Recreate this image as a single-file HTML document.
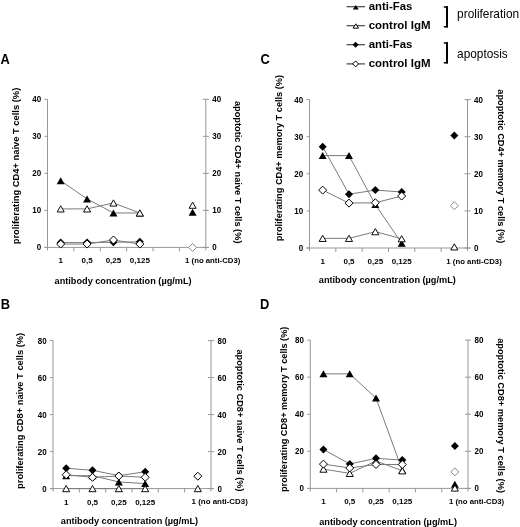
<!DOCTYPE html>
<html><head><meta charset="utf-8"><style>
html,body{margin:0;padding:0;background:#fff;}
svg{display:block;font-family:"Liberation Sans", sans-serif;will-change:transform;}
</style></head><body>
<svg width="520" height="527" viewBox="0 0 520 527">
<text x="0.5" y="63.5" font-size="14.6" font-weight="bold" text-anchor="start" fill="#000" textLength="9.3" lengthAdjust="spacingAndGlyphs" >A</text>
<g stroke="#979797" stroke-width="1" fill="none">
<path d="M47.5,99.3 V250.4 M205.8,99.3 V250.4 M44.5,247.4 H208.8"/>
<path d="M44.5,247.4 H47.5 M202.8,247.4 H208.8 M44.5,210.375 H47.5 M202.8,210.375 H208.8 M44.5,173.35 H47.5 M202.8,173.35 H208.8 M44.5,136.325 H47.5 M202.8,136.325 H208.8 M44.5,99.29999999999998 H47.5 M202.8,99.29999999999998 H208.8 M73.88333333333334,247.4 V251.4 M100.26666666666668,247.4 V251.4 M126.65,247.4 V251.4 M153.03333333333336,247.4 V251.4 M179.41666666666669,247.4 V251.4 "/>
</g>
<text x="41.2" y="250.4" font-size="8.4" font-weight="bold" text-anchor="end" fill="#000" textLength="4.45" lengthAdjust="spacingAndGlyphs" >0</text>
<text x="212.3" y="250.4" font-size="8.4" font-weight="bold" text-anchor="start" fill="#000" textLength="4.45" lengthAdjust="spacingAndGlyphs" >0</text>
<text x="41.2" y="213.375" font-size="8.4" font-weight="bold" text-anchor="end" fill="#000" textLength="8.9" lengthAdjust="spacingAndGlyphs" >10</text>
<text x="212.3" y="213.375" font-size="8.4" font-weight="bold" text-anchor="start" fill="#000" textLength="8.9" lengthAdjust="spacingAndGlyphs" >10</text>
<text x="41.2" y="176.35" font-size="8.4" font-weight="bold" text-anchor="end" fill="#000" textLength="8.9" lengthAdjust="spacingAndGlyphs" >20</text>
<text x="212.3" y="176.35" font-size="8.4" font-weight="bold" text-anchor="start" fill="#000" textLength="8.9" lengthAdjust="spacingAndGlyphs" >20</text>
<text x="41.2" y="139.325" font-size="8.4" font-weight="bold" text-anchor="end" fill="#000" textLength="8.9" lengthAdjust="spacingAndGlyphs" >30</text>
<text x="212.3" y="139.325" font-size="8.4" font-weight="bold" text-anchor="start" fill="#000" textLength="8.9" lengthAdjust="spacingAndGlyphs" >30</text>
<text x="41.2" y="102.29999999999998" font-size="8.4" font-weight="bold" text-anchor="end" fill="#000" textLength="8.9" lengthAdjust="spacingAndGlyphs" >40</text>
<text x="212.3" y="102.29999999999998" font-size="8.4" font-weight="bold" text-anchor="start" fill="#000" textLength="8.9" lengthAdjust="spacingAndGlyphs" >40</text>
<text x="60.69166666666667" y="263.4" font-size="8" font-weight="bold" text-anchor="middle" fill="#000" >1</text>
<text x="87.075" y="263.4" font-size="8" font-weight="bold" text-anchor="middle" fill="#000" >0,5</text>
<text x="113.45833333333334" y="263.4" font-size="8" font-weight="bold" text-anchor="middle" fill="#000" >0,25</text>
<text x="139.8416666666667" y="263.4" font-size="8" font-weight="bold" text-anchor="middle" fill="#000" >0,125</text>
<text x="185.1" y="263.0" font-size="8" font-weight="bold" text-anchor="start" fill="#000" textLength="55.199999999999996" lengthAdjust="spacingAndGlyphs" >1 (no anti-CD3)</text>
<text x="54.6" y="283.9" font-size="9.1" font-weight="bold" text-anchor="start" fill="#000" textLength="137.0" lengthAdjust="spacingAndGlyphs" >antibody concentration (&#181;g/mL)</text>
<text x="18.9" y="244.3" font-size="9.2" font-weight="bold" text-anchor="start" fill="#000" textLength="156.60000000000002" lengthAdjust="spacingAndGlyphs" transform="rotate(-90 18.9 244.3)" >proliferating CD4+ naive T cells (%)</text>
<text x="234.8" y="100.89999999999999" font-size="9.2" font-weight="bold" text-anchor="start" fill="#000" textLength="142.60000000000002" lengthAdjust="spacingAndGlyphs" transform="rotate(90 234.8 100.89999999999999)" >apoptotic CD4+ naive T cells (%)</text>
<g stroke="#7a7a7a" stroke-width="1" fill="none">
<path d="M60.69,180.75 L87.08,198.90 L113.46,212.97 L139.84,212.97"/>
<path d="M60.69,208.89 L87.08,208.89 L113.46,202.97 L139.84,212.97"/>
<path d="M60.69,242.59 L87.08,242.59 L113.46,242.22 L139.84,241.85"/>
<path d="M60.69,244.07 L87.08,244.07 L113.46,240.00 L139.84,244.07"/>
</g>
<polygon points="60.69166666666667,177.255 64.69166666666666,184.255 56.69166666666667,184.255" fill="#000"/>
<polygon points="87.075,195.39724999999999 91.075,202.39724999999999 83.075,202.39724999999999" fill="#000"/>
<polygon points="113.45833333333334,209.46675 117.45833333333334,216.46675 109.45833333333334,216.46675" fill="#000"/>
<polygon points="139.8416666666667,209.46675 143.8416666666667,216.46675 135.8416666666667,216.46675" fill="#000"/>
<polygon points="192.60833333333335,208.72625 196.60833333333335,215.72625 188.60833333333335,215.72625" fill="#000"/>
<polygon points="60.69166666666667,205.794 64.24166666666667,211.994 57.14166666666667,211.994" fill="#fff" stroke="#000" stroke-width="0.95"/>
<polygon points="87.075,205.794 90.625,211.994 83.525,211.994" fill="#fff" stroke="#000" stroke-width="0.95"/>
<polygon points="113.45833333333334,199.87 117.00833333333334,206.07 109.90833333333335,206.07" fill="#fff" stroke="#000" stroke-width="0.95"/>
<polygon points="139.8416666666667,209.86675 143.3916666666667,216.06674999999998 136.29166666666669,216.06674999999998" fill="#fff" stroke="#000" stroke-width="0.95"/>
<polygon points="192.60833333333335,202.0915 196.15833333333336,208.29149999999998 189.05833333333334,208.29149999999998" fill="#fff" stroke="#000" stroke-width="0.95"/>
<polygon points="60.69166666666667,238.58675 64.69166666666666,242.58675 60.69166666666667,246.58675 56.69166666666667,242.58675" fill="#000"/>
<polygon points="87.075,238.58675 91.075,242.58675 87.075,246.58675 83.075,242.58675" fill="#000"/>
<polygon points="113.45833333333334,238.2165 117.45833333333334,242.2165 113.45833333333334,246.2165 109.45833333333334,242.2165" fill="#000"/>
<polygon points="139.8416666666667,237.84625 143.8416666666667,241.84625 139.8416666666667,245.84625 135.8416666666667,241.84625" fill="#000"/>
<polygon points="60.69166666666667,240.06775000000002 64.69166666666666,244.06775000000002 60.69166666666667,248.06775000000002 56.69166666666667,244.06775000000002" fill="#fff" stroke="#000" stroke-width="1"/>
<polygon points="87.075,240.06775000000002 91.075,244.06775000000002 87.075,248.06775000000002 83.075,244.06775000000002" fill="#fff" stroke="#000" stroke-width="1"/>
<polygon points="113.45833333333334,235.995 117.45833333333334,239.995 113.45833333333334,243.995 109.45833333333334,239.995" fill="#fff" stroke="#000" stroke-width="1"/>
<polygon points="139.8416666666667,240.06775000000002 143.8416666666667,244.06775000000002 139.8416666666667,248.06775000000002 135.8416666666667,244.06775000000002" fill="#fff" stroke="#000" stroke-width="1"/>
<polygon points="192.60833333333335,243.4 196.60833333333335,247.4 192.60833333333335,251.4 188.60833333333335,247.4" fill="#fff" stroke="#888" stroke-width="1"/>
<text x="260.5" y="63.5" font-size="14.6" font-weight="bold" text-anchor="start" fill="#000" textLength="9.3" lengthAdjust="spacingAndGlyphs" >C</text>
<g stroke="#979797" stroke-width="1" fill="none">
<path d="M309.5,99.6 V251.0 M467.5,99.6 V251.0 M306.5,248.0 H470.5"/>
<path d="M306.5,248.0 H309.5 M464.5,248.0 H470.5 M306.5,210.9 H309.5 M464.5,210.9 H470.5 M306.5,173.8 H309.5 M464.5,173.8 H470.5 M306.5,136.7 H309.5 M464.5,136.7 H470.5 M306.5,99.6 H309.5 M464.5,99.6 H470.5 M335.8333333333333,248.0 V252.0 M362.1666666666667,248.0 V252.0 M388.5,248.0 V252.0 M414.8333333333333,248.0 V252.0 M441.16666666666663,248.0 V252.0 "/>
</g>
<text x="303.2" y="251.0" font-size="8.4" font-weight="bold" text-anchor="end" fill="#000" textLength="4.45" lengthAdjust="spacingAndGlyphs" >0</text>
<text x="474.0" y="251.0" font-size="8.4" font-weight="bold" text-anchor="start" fill="#000" textLength="4.45" lengthAdjust="spacingAndGlyphs" >0</text>
<text x="303.2" y="213.9" font-size="8.4" font-weight="bold" text-anchor="end" fill="#000" textLength="8.9" lengthAdjust="spacingAndGlyphs" >10</text>
<text x="474.0" y="213.9" font-size="8.4" font-weight="bold" text-anchor="start" fill="#000" textLength="8.9" lengthAdjust="spacingAndGlyphs" >10</text>
<text x="303.2" y="176.8" font-size="8.4" font-weight="bold" text-anchor="end" fill="#000" textLength="8.9" lengthAdjust="spacingAndGlyphs" >20</text>
<text x="474.0" y="176.8" font-size="8.4" font-weight="bold" text-anchor="start" fill="#000" textLength="8.9" lengthAdjust="spacingAndGlyphs" >20</text>
<text x="303.2" y="139.7" font-size="8.4" font-weight="bold" text-anchor="end" fill="#000" textLength="8.9" lengthAdjust="spacingAndGlyphs" >30</text>
<text x="474.0" y="139.7" font-size="8.4" font-weight="bold" text-anchor="start" fill="#000" textLength="8.9" lengthAdjust="spacingAndGlyphs" >30</text>
<text x="303.2" y="102.6" font-size="8.4" font-weight="bold" text-anchor="end" fill="#000" textLength="8.9" lengthAdjust="spacingAndGlyphs" >40</text>
<text x="474.0" y="102.6" font-size="8.4" font-weight="bold" text-anchor="start" fill="#000" textLength="8.9" lengthAdjust="spacingAndGlyphs" >40</text>
<text x="322.6666666666667" y="264.0" font-size="8" font-weight="bold" text-anchor="middle" fill="#000" >1</text>
<text x="349.0" y="264.0" font-size="8" font-weight="bold" text-anchor="middle" fill="#000" >0,5</text>
<text x="375.3333333333333" y="264.0" font-size="8" font-weight="bold" text-anchor="middle" fill="#000" >0,25</text>
<text x="401.66666666666663" y="264.0" font-size="8" font-weight="bold" text-anchor="middle" fill="#000" >0,125</text>
<text x="446.3" y="263.6" font-size="8" font-weight="bold" text-anchor="start" fill="#000" textLength="55.49999999999998" lengthAdjust="spacingAndGlyphs" >1 (no anti-CD3)</text>
<text x="318.8" y="282.8" font-size="9.1" font-weight="bold" text-anchor="start" fill="#000" textLength="137.0" lengthAdjust="spacingAndGlyphs" >antibody concentration (&#181;g/mL)</text>
<text x="282.2" y="241.3" font-size="9.2" font-weight="bold" text-anchor="start" fill="#000" textLength="166.4" lengthAdjust="spacingAndGlyphs" transform="rotate(-90 282.2 241.3)" >proliferating CD4+ memory T cells (%)</text>
<text x="498.3" y="89.3" font-size="9.2" font-weight="bold" text-anchor="start" fill="#000" textLength="154.0" lengthAdjust="spacingAndGlyphs" transform="rotate(90 498.3 89.3)" >apoptotic CD4+ memory T cells (%)</text>
<g stroke="#7a7a7a" stroke-width="1" fill="none">
<path d="M322.67,155.62 L349.00,155.62 L375.33,204.59 L401.67,243.18"/>
<path d="M322.67,238.35 L349.00,238.35 L375.33,231.68 L401.67,238.72"/>
<path d="M322.67,146.72 L349.00,194.20 L375.33,190.12 L401.67,191.98"/>
<path d="M322.67,190.12 L349.00,203.11 L375.33,202.74 L401.67,196.06"/>
</g>
<polygon points="322.6666666666667,152.121 326.6666666666667,159.121 318.6666666666667,159.121" fill="#000"/>
<polygon points="349.0,152.121 353.0,159.121 345.0,159.121" fill="#000"/>
<polygon points="375.3333333333333,201.09300000000002 379.3333333333333,208.09300000000002 371.3333333333333,208.09300000000002" fill="#000"/>
<polygon points="401.66666666666663,239.677 405.66666666666663,246.677 397.66666666666663,246.677" fill="#000"/>
<polygon points="322.6666666666667,235.254 326.2166666666667,241.45399999999998 319.1166666666667,241.45399999999998" fill="#fff" stroke="#000" stroke-width="0.95"/>
<polygon points="349.0,235.254 352.55,241.45399999999998 345.45,241.45399999999998" fill="#fff" stroke="#000" stroke-width="0.95"/>
<polygon points="375.3333333333333,228.576 378.8833333333333,234.77599999999998 371.7833333333333,234.77599999999998" fill="#fff" stroke="#000" stroke-width="0.95"/>
<polygon points="401.66666666666663,235.625 405.21666666666664,241.825 398.1166666666666,241.825" fill="#fff" stroke="#000" stroke-width="0.95"/>
<polygon points="454.3333333333333,243.787 457.8833333333333,249.987 450.7833333333333,249.987" fill="#fff" stroke="#000" stroke-width="0.95"/>
<polygon points="322.6666666666667,142.71699999999998 326.6666666666667,146.71699999999998 322.6666666666667,150.71699999999998 318.6666666666667,146.71699999999998" fill="#000"/>
<polygon points="349.0,190.20499999999998 353.0,194.20499999999998 349.0,198.20499999999998 345.0,194.20499999999998" fill="#000"/>
<polygon points="375.3333333333333,186.124 379.3333333333333,190.124 375.3333333333333,194.124 371.3333333333333,190.124" fill="#000"/>
<polygon points="401.66666666666663,187.97899999999998 405.66666666666663,191.97899999999998 401.66666666666663,195.97899999999998 397.66666666666663,191.97899999999998" fill="#000"/>
<polygon points="454.3333333333333,131.587 458.3333333333333,135.587 454.3333333333333,139.587 450.3333333333333,135.587" fill="#000"/>
<polygon points="322.6666666666667,186.124 326.6666666666667,190.124 322.6666666666667,194.124 318.6666666666667,190.124" fill="#fff" stroke="#000" stroke-width="1"/>
<polygon points="349.0,199.109 353.0,203.109 349.0,207.109 345.0,203.109" fill="#fff" stroke="#000" stroke-width="1"/>
<polygon points="375.3333333333333,198.738 379.3333333333333,202.738 375.3333333333333,206.738 371.3333333333333,202.738" fill="#fff" stroke="#000" stroke-width="1"/>
<polygon points="401.66666666666663,192.06 405.66666666666663,196.06 401.66666666666663,200.06 397.66666666666663,196.06" fill="#fff" stroke="#000" stroke-width="1"/>
<polygon points="454.3333333333333,201.706 458.3333333333333,205.706 454.3333333333333,209.706 450.3333333333333,205.706" fill="#fff" stroke="#888" stroke-width="1"/>
<text x="0.7" y="308.7" font-size="14.6" font-weight="bold" text-anchor="start" fill="#000" textLength="9.3" lengthAdjust="spacingAndGlyphs" >B</text>
<g stroke="#979797" stroke-width="1" fill="none">
<path d="M53,340.6 V491.6 M211,340.6 V491.6 M50,488.6 H214"/>
<path d="M50,488.6 H53 M208,488.6 H214 M50,451.6 H53 M208,451.6 H214 M50,414.6 H53 M208,414.6 H214 M50,377.6 H53 M208,377.6 H214 M50,340.6 H53 M208,340.6 H214 M79.33333333333333,488.6 V492.6 M105.66666666666666,488.6 V492.6 M132.0,488.6 V492.6 M158.33333333333331,488.6 V492.6 M184.66666666666666,488.6 V492.6 "/>
</g>
<text x="46.7" y="491.6" font-size="8.4" font-weight="bold" text-anchor="end" fill="#000" textLength="4.45" lengthAdjust="spacingAndGlyphs" >0</text>
<text x="217.5" y="491.6" font-size="8.4" font-weight="bold" text-anchor="start" fill="#000" textLength="4.45" lengthAdjust="spacingAndGlyphs" >0</text>
<text x="46.7" y="454.6" font-size="8.4" font-weight="bold" text-anchor="end" fill="#000" textLength="8.9" lengthAdjust="spacingAndGlyphs" >20</text>
<text x="217.5" y="454.6" font-size="8.4" font-weight="bold" text-anchor="start" fill="#000" textLength="8.9" lengthAdjust="spacingAndGlyphs" >20</text>
<text x="46.7" y="417.6" font-size="8.4" font-weight="bold" text-anchor="end" fill="#000" textLength="8.9" lengthAdjust="spacingAndGlyphs" >40</text>
<text x="217.5" y="417.6" font-size="8.4" font-weight="bold" text-anchor="start" fill="#000" textLength="8.9" lengthAdjust="spacingAndGlyphs" >40</text>
<text x="46.7" y="380.6" font-size="8.4" font-weight="bold" text-anchor="end" fill="#000" textLength="8.9" lengthAdjust="spacingAndGlyphs" >60</text>
<text x="217.5" y="380.6" font-size="8.4" font-weight="bold" text-anchor="start" fill="#000" textLength="8.9" lengthAdjust="spacingAndGlyphs" >60</text>
<text x="46.7" y="343.6" font-size="8.4" font-weight="bold" text-anchor="end" fill="#000" textLength="8.9" lengthAdjust="spacingAndGlyphs" >80</text>
<text x="217.5" y="343.6" font-size="8.4" font-weight="bold" text-anchor="start" fill="#000" textLength="8.9" lengthAdjust="spacingAndGlyphs" >80</text>
<text x="66.16666666666667" y="504.6" font-size="8" font-weight="bold" text-anchor="middle" fill="#000" >1</text>
<text x="92.5" y="504.6" font-size="8" font-weight="bold" text-anchor="middle" fill="#000" >0,5</text>
<text x="118.83333333333333" y="504.6" font-size="8" font-weight="bold" text-anchor="middle" fill="#000" >0,25</text>
<text x="145.16666666666666" y="504.6" font-size="8" font-weight="bold" text-anchor="middle" fill="#000" >0,125</text>
<text x="191.6" y="504.20000000000005" font-size="8" font-weight="bold" text-anchor="start" fill="#000" textLength="56.199999999999996" lengthAdjust="spacingAndGlyphs" >1 (no anti-CD3)</text>
<text x="60.800000000000004" y="524.0" font-size="9.1" font-weight="bold" text-anchor="start" fill="#000" textLength="137.3" lengthAdjust="spacingAndGlyphs" >antibody concentration (&#181;g/mL)</text>
<text x="23.0" y="488.9" font-size="9.2" font-weight="bold" text-anchor="start" fill="#000" textLength="156.1" lengthAdjust="spacingAndGlyphs" transform="rotate(-90 23.0 488.9)" >proliferating CD8+ naive T cells (%)</text>
<text x="236.6" y="349.5" font-size="9.2" font-weight="bold" text-anchor="start" fill="#000" textLength="142.00000000000006" lengthAdjust="spacingAndGlyphs" transform="rotate(90 236.6 349.5)" >apoptotic CD8+ naive T cells (%)</text>
<g stroke="#7a7a7a" stroke-width="1" fill="none">
<path d="M66.17,475.65 L92.50,475.65 L118.83,481.94 L145.17,483.61"/>
<path d="M66.17,488.60 L92.50,488.60 L118.83,488.60 L145.17,488.60"/>
<path d="M66.17,468.25 L92.50,470.29 L118.83,475.65 L145.17,471.77"/>
<path d="M66.17,474.73 L92.50,477.31 L118.83,476.02 L145.17,477.31"/>
</g>
<polygon points="66.16666666666667,472.15000000000003 70.16666666666667,479.15000000000003 62.16666666666667,479.15000000000003" fill="#000"/>
<polygon points="92.5,472.15000000000003 96.5,479.15000000000003 88.5,479.15000000000003" fill="#000"/>
<polygon points="118.83333333333333,478.44 122.83333333333333,485.44 114.83333333333333,485.44" fill="#000"/>
<polygon points="145.16666666666666,480.105 149.16666666666666,487.105 141.16666666666666,487.105" fill="#000"/>
<polygon points="66.16666666666667,485.5 69.71666666666667,491.70000000000005 62.616666666666674,491.70000000000005" fill="#fff" stroke="#000" stroke-width="0.95"/>
<polygon points="92.5,485.5 96.05,491.70000000000005 88.95,491.70000000000005" fill="#fff" stroke="#000" stroke-width="0.95"/>
<polygon points="118.83333333333333,485.5 122.38333333333333,491.70000000000005 115.28333333333333,491.70000000000005" fill="#fff" stroke="#000" stroke-width="0.95"/>
<polygon points="145.16666666666666,485.5 148.71666666666667,491.70000000000005 141.61666666666665,491.70000000000005" fill="#fff" stroke="#000" stroke-width="0.95"/>
<polygon points="197.83333333333331,485.5 201.38333333333333,491.70000000000005 194.2833333333333,491.70000000000005" fill="#fff" stroke="#000" stroke-width="0.95"/>
<polygon points="66.16666666666667,464.25 70.16666666666667,468.25 66.16666666666667,472.25 62.16666666666667,468.25" fill="#000"/>
<polygon points="92.5,466.285 96.5,470.285 92.5,474.285 88.5,470.285" fill="#000"/>
<polygon points="118.83333333333333,471.65000000000003 122.83333333333333,475.65000000000003 118.83333333333333,479.65000000000003 114.83333333333333,475.65000000000003" fill="#000"/>
<polygon points="145.16666666666666,467.76500000000004 149.16666666666666,471.76500000000004 145.16666666666666,475.76500000000004 141.16666666666666,471.76500000000004" fill="#000"/>
<polygon points="66.16666666666667,470.725 70.16666666666667,474.725 66.16666666666667,478.725 62.16666666666667,474.725" fill="#fff" stroke="#000" stroke-width="1"/>
<polygon points="92.5,473.315 96.5,477.315 92.5,481.315 88.5,477.315" fill="#fff" stroke="#000" stroke-width="1"/>
<polygon points="118.83333333333333,472.02000000000004 122.83333333333333,476.02000000000004 118.83333333333333,480.02000000000004 114.83333333333333,476.02000000000004" fill="#fff" stroke="#000" stroke-width="1"/>
<polygon points="145.16666666666666,473.315 149.16666666666666,477.315 145.16666666666666,481.315 141.16666666666666,477.315" fill="#fff" stroke="#000" stroke-width="1"/>
<polygon points="197.83333333333331,472.20500000000004 201.83333333333331,476.20500000000004 197.83333333333331,480.20500000000004 193.83333333333331,476.20500000000004" fill="#fff" stroke="#000" stroke-width="1"/>
<text x="260" y="308.7" font-size="14.6" font-weight="bold" text-anchor="start" fill="#000" textLength="9.3" lengthAdjust="spacingAndGlyphs" >D</text>
<g stroke="#979797" stroke-width="1" fill="none">
<path d="M310.3,340.1 V491.4 M468,340.1 V491.4 M307.3,488.4 H471"/>
<path d="M307.3,488.4 H310.3 M465,488.4 H471 M307.3,451.325 H310.3 M465,451.325 H471 M307.3,414.25 H310.3 M465,414.25 H471 M307.3,377.175 H310.3 M465,377.175 H471 M307.3,340.1 H310.3 M465,340.1 H471 M336.58333333333337,488.4 V492.4 M362.8666666666667,488.4 V492.4 M389.15,488.4 V492.4 M415.43333333333334,488.4 V492.4 M441.7166666666667,488.4 V492.4 "/>
</g>
<text x="304.0" y="491.4" font-size="8.4" font-weight="bold" text-anchor="end" fill="#000" textLength="4.45" lengthAdjust="spacingAndGlyphs" >0</text>
<text x="474.5" y="491.4" font-size="8.4" font-weight="bold" text-anchor="start" fill="#000" textLength="4.45" lengthAdjust="spacingAndGlyphs" >0</text>
<text x="304.0" y="454.325" font-size="8.4" font-weight="bold" text-anchor="end" fill="#000" textLength="8.9" lengthAdjust="spacingAndGlyphs" >20</text>
<text x="474.5" y="454.325" font-size="8.4" font-weight="bold" text-anchor="start" fill="#000" textLength="8.9" lengthAdjust="spacingAndGlyphs" >20</text>
<text x="304.0" y="417.25" font-size="8.4" font-weight="bold" text-anchor="end" fill="#000" textLength="8.9" lengthAdjust="spacingAndGlyphs" >40</text>
<text x="474.5" y="417.25" font-size="8.4" font-weight="bold" text-anchor="start" fill="#000" textLength="8.9" lengthAdjust="spacingAndGlyphs" >40</text>
<text x="304.0" y="380.175" font-size="8.4" font-weight="bold" text-anchor="end" fill="#000" textLength="8.9" lengthAdjust="spacingAndGlyphs" >60</text>
<text x="474.5" y="380.175" font-size="8.4" font-weight="bold" text-anchor="start" fill="#000" textLength="8.9" lengthAdjust="spacingAndGlyphs" >60</text>
<text x="304.0" y="343.1" font-size="8.4" font-weight="bold" text-anchor="end" fill="#000" textLength="8.9" lengthAdjust="spacingAndGlyphs" >80</text>
<text x="474.5" y="343.1" font-size="8.4" font-weight="bold" text-anchor="start" fill="#000" textLength="8.9" lengthAdjust="spacingAndGlyphs" >80</text>
<text x="323.44166666666666" y="504.4" font-size="8" font-weight="bold" text-anchor="middle" fill="#000" >1</text>
<text x="349.725" y="504.4" font-size="8" font-weight="bold" text-anchor="middle" fill="#000" >0,5</text>
<text x="376.0083333333333" y="504.4" font-size="8" font-weight="bold" text-anchor="middle" fill="#000" >0,25</text>
<text x="402.2916666666667" y="504.4" font-size="8" font-weight="bold" text-anchor="middle" fill="#000" >0,125</text>
<text x="449.09999999999997" y="504.0" font-size="8" font-weight="bold" text-anchor="start" fill="#000" textLength="55.000000000000036" lengthAdjust="spacingAndGlyphs" >1 (no anti-CD3)</text>
<text x="319.20000000000005" y="524.7" font-size="9.1" font-weight="bold" text-anchor="start" fill="#000" textLength="137.8" lengthAdjust="spacingAndGlyphs" >antibody concentration (&#181;g/mL)</text>
<text x="286.5" y="492.0" font-size="9.2" font-weight="bold" text-anchor="start" fill="#000" textLength="165.29999999999998" lengthAdjust="spacingAndGlyphs" transform="rotate(-90 286.5 492.0)" >proliferating CD8+ memory T cells (%)</text>
<text x="497.8" y="338.20000000000005" font-size="9.2" font-weight="bold" text-anchor="start" fill="#000" textLength="154.8" lengthAdjust="spacingAndGlyphs" transform="rotate(90 497.8 338.20000000000005)" >apoptotic CD8+ memory T cells (%)</text>
<g stroke="#7a7a7a" stroke-width="1" fill="none">
<path d="M323.44,373.84 L349.73,373.84 L376.01,398.12 L402.29,470.23"/>
<path d="M323.44,469.12 L349.73,473.38 L376.01,460.96 L402.29,470.79"/>
<path d="M323.44,449.47 L349.73,463.93 L376.01,458.37 L402.29,460.04"/>
<path d="M323.44,464.12 L349.73,468.01 L376.01,464.49 L402.29,464.49"/>
</g>
<polygon points="323.44166666666666,370.33825 327.44166666666666,377.33825 319.44166666666666,377.33825" fill="#000"/>
<polygon points="349.725,370.33825 353.725,377.33825 345.725,377.33825" fill="#000"/>
<polygon points="376.0083333333333,394.62237500000003 380.0083333333333,401.62237500000003 372.0083333333333,401.62237500000003" fill="#000"/>
<polygon points="402.2916666666667,466.73325 406.2916666666667,473.73325 398.2916666666667,473.73325" fill="#000"/>
<polygon points="454.85833333333335,480.636375 458.85833333333335,487.636375 450.85833333333335,487.636375" fill="#000"/>
<polygon points="323.44166666666666,466.02099999999996 326.9916666666667,472.221 319.89166666666665,472.221" fill="#fff" stroke="#000" stroke-width="0.95"/>
<polygon points="349.725,470.28462499999995 353.27500000000003,476.484625 346.175,476.484625" fill="#fff" stroke="#000" stroke-width="0.95"/>
<polygon points="376.0083333333333,457.86449999999996 379.55833333333334,464.0645 372.4583333333333,464.0645" fill="#fff" stroke="#000" stroke-width="0.95"/>
<polygon points="402.2916666666667,467.689375 405.8416666666667,473.88937500000003 398.7416666666667,473.88937500000003" fill="#fff" stroke="#000" stroke-width="0.95"/>
<polygon points="454.85833333333335,484.92924999999997 458.40833333333336,491.12925 451.30833333333334,491.12925" fill="#fff" stroke="#000" stroke-width="0.95"/>
<polygon points="323.44166666666666,445.47125 327.44166666666666,449.47125 323.44166666666666,453.47125 319.44166666666666,449.47125" fill="#000"/>
<polygon points="349.725,459.9305 353.725,463.9305 349.725,467.9305 345.725,463.9305" fill="#000"/>
<polygon points="376.0083333333333,454.36924999999997 380.0083333333333,458.36924999999997 376.0083333333333,462.36924999999997 372.0083333333333,458.36924999999997" fill="#000"/>
<polygon points="402.2916666666667,456.037625 406.2916666666667,460.037625 402.2916666666667,464.037625 398.2916666666667,460.037625" fill="#000"/>
<polygon points="454.85833333333335,441.949125 458.85833333333335,445.949125 454.85833333333335,449.949125 450.85833333333335,445.949125" fill="#000"/>
<polygon points="323.44166666666666,460.11587499999996 327.44166666666666,464.11587499999996 323.44166666666666,468.11587499999996 319.44166666666666,464.11587499999996" fill="#fff" stroke="#000" stroke-width="1"/>
<polygon points="349.725,464.00874999999996 353.725,468.00874999999996 349.725,472.00874999999996 345.725,468.00874999999996" fill="#fff" stroke="#000" stroke-width="1"/>
<polygon points="376.0083333333333,460.486625 380.0083333333333,464.486625 376.0083333333333,468.486625 372.0083333333333,464.486625" fill="#fff" stroke="#000" stroke-width="1"/>
<polygon points="402.2916666666667,460.486625 406.2916666666667,464.486625 402.2916666666667,468.486625 398.2916666666667,464.486625" fill="#fff" stroke="#000" stroke-width="1"/>
<polygon points="454.85833333333335,467.90162499999997 458.85833333333335,471.90162499999997 454.85833333333335,475.90162499999997 450.85833333333335,471.90162499999997" fill="#fff" stroke="#888" stroke-width="1"/>
<path d="M346.5,6.7 H365" stroke="#444" stroke-width="1.2"/>
<polygon points="355.8,4.9 358.8,9.5 352.8,9.5" fill="#000"/>
<text x="368.7" y="9.8" font-size="10.2" font-weight="bold" text-anchor="start" fill="#000" textLength="43.6" lengthAdjust="spacingAndGlyphs" >anti-Fas</text>
<path d="M346.5,25.7 H365" stroke="#444" stroke-width="1.2"/>
<polygon points="355.8,23.8 358.55,28.2 353.05,28.2" fill="#fff" stroke="#000" stroke-width="0.95"/>
<text x="368.7" y="28.8" font-size="10.2" font-weight="bold" text-anchor="start" fill="#000" textLength="61.8" lengthAdjust="spacingAndGlyphs" >control IgM</text>
<path d="M346.5,44.7 H365" stroke="#444" stroke-width="1.2"/>
<polygon points="355.6,41.7 358.6,44.7 355.6,47.7 352.6,44.7" fill="#000"/>
<text x="368.7" y="47.800000000000004" font-size="10.2" font-weight="bold" text-anchor="start" fill="#000" textLength="43.6" lengthAdjust="spacingAndGlyphs" >anti-Fas</text>
<path d="M346.5,63.9 H365" stroke="#444" stroke-width="1.2"/>
<polygon points="355.6,60.9 358.6,63.9 355.6,66.9 352.6,63.9" fill="#fff" stroke="#000" stroke-width="1"/>
<text x="368.7" y="67.0" font-size="10.2" font-weight="bold" text-anchor="start" fill="#000" textLength="61.8" lengthAdjust="spacingAndGlyphs" >control IgM</text>
<path d="M443.8,6.95 H446.9 V26.75 H443.8" stroke="#000" stroke-width="1.5" fill="none"/>
<path d="M447,6.2 V27.5" stroke="#000" stroke-width="2.0" fill="none"/>
<path d="M443.8,42.95 H446.9 V62.65 H443.8" stroke="#000" stroke-width="1.5" fill="none"/>
<path d="M447,42.2 V63.4" stroke="#000" stroke-width="2.0" fill="none"/>
<text x="457.1" y="18.4" font-size="11.9" font-weight="normal" text-anchor="start" fill="#000" textLength="62" lengthAdjust="spacingAndGlyphs" >proliferation</text>
<text x="457.1" y="58" font-size="11.9" font-weight="normal" text-anchor="start" fill="#000" textLength="50.6" lengthAdjust="spacingAndGlyphs" >apoptosis</text>
</svg>
</body></html>
